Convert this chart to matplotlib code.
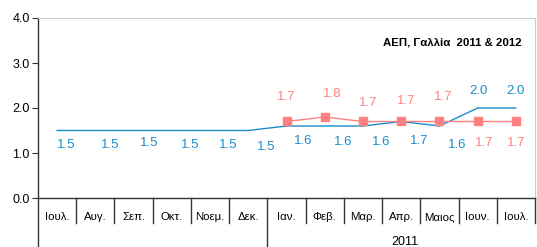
import matplotlib
matplotlib.use("Agg")
import matplotlib.pyplot as plt
import matplotlib.transforms as mtransforms

plt.rcParams['font.family'] = ['Liberation Sans', 'DejaVu Sans']

months = ["Ιουλ.", "Αυγ.", "Σεπ.", "Οκτ.", "Νοεμ.", "Δεκ.",
          "Ιαν.", "Φεβ.", "Μαρ.", "Απρ.", "Μαιος", "Ιουν.", "Ιουλ."]
year_label = "2011"
blue = [1.5, 1.5, 1.5, 1.5, 1.5, 1.5, 1.6, 1.6, 1.6, 1.7, 1.6, 2.0, 2.0]
red = [None, None, None, None, None, None, 1.7, 1.8, 1.7, 1.7, 1.7, 1.7, 1.7]
title = "ΑΕΠ, Γαλλία  2011 & 2012"

# label offsets in pixels (dx, dy)
blue_off = [(9, -14), (15, -14), (16, -13), (18, -14), (18, -14), (18, -17),
            (17, -15), (18, -16), (18, -16), (18, -20), (18, -19), (1, 17), (0, 17)]
red_off = [None] * 6 + [(0, 25), (7, 23), (5, 18), (5, 20), (4, 25), (7, -21), (0, -22)]

c_blue = "#1C8BCB"
c_red = "#FF8080"

fig = plt.figure(figsize=(5.37, 2.47), dpi=100)
ax = fig.add_axes([38 / 537, 49 / 247, 497 / 537, 180 / 247])

x = [i + 0.5 for i in range(len(months))]
ax.plot(x, blue, color=c_blue, lw=1.0)
xr = [xi for xi, v in zip(x, red) if v is not None]
yr = [v for v in red if v is not None]
ax.plot(xr, yr, color=c_red, lw=1.0, marker='s', markersize=5.5)

px = 0.72
for xi, v, (dx, dy) in zip(x, blue, blue_off):
    ax.annotate(f"{v:.1f}", (xi, v), xytext=(dx * px, dy * px), textcoords='offset points',
                ha='center', va='center', color=c_blue, fontsize=9.5)
for xi, v, off in zip(x, red, red_off):
    if v is None:
        continue
    ax.annotate(f"{v:.1f}", (xi, v), xytext=(off[0] * px, off[1] * px), textcoords='offset points',
                ha='center', va='center', color=c_red, fontsize=9.5)

ax.set_xlim(0, len(months))
ax.set_ylim(0, 4)
ax.set_yticks([0, 1, 2, 3, 4])
ax.set_yticklabels(["0.0", "1.0", "2.0", "3.0", "4.0"], fontsize=9)
ax.tick_params(axis='y', length=4, width=0.8, color='#333333', pad=2)
ax.set_xticks([])

for s in ['top', 'right']:
    ax.spines[s].set_color('#cccccc')
    ax.spines[s].set_linewidth(0.8)
for s in ['left', 'bottom']:
    ax.spines[s].set_color('#333333')
    ax.spines[s].set_linewidth(1.0)

# category axis with separators
trans = mtransforms.blended_transform_factory(ax.transData, ax.transAxes)
for i in range(len(months) + 1):
    bottom = -0.28 if i in (0, 6) else -0.139
    ax.plot([i, i], [0, bottom], transform=trans, color='#333333', lw=1.0, clip_on=False)
for xi, m in zip(x, months):
    ax.text(xi, -0.122, m, transform=trans, ha='center', va='baseline', fontsize=8.2)
ax.text(9.6, -0.261, year_label, transform=trans, ha='center', va='baseline', fontsize=9)

ax.text(0.973, 0.865, title, transform=ax.transAxes, ha='right', va='center',
        fontsize=8.2, fontweight='bold')

fig.savefig("out.png", dpi=100)
